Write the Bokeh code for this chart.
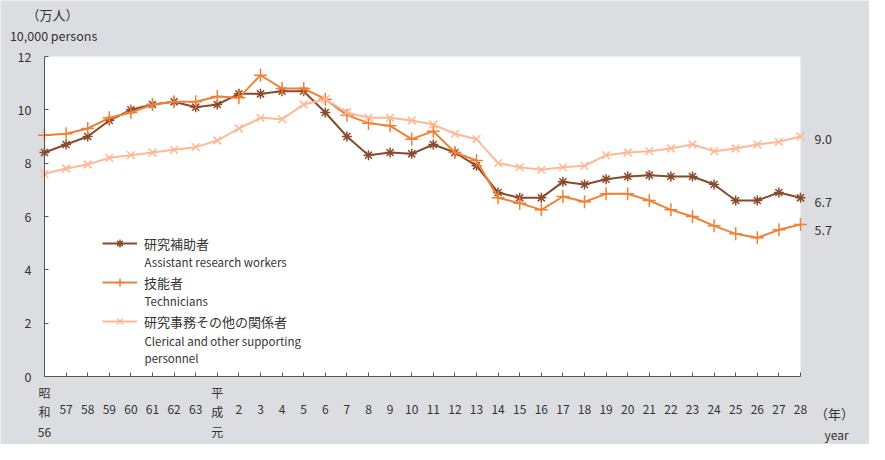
from bokeh.plotting import figure
from bokeh.models import Range1d, FixedTicker, Legend, LegendItem, Label, LinearAxis, BoxAnnotation
from bokeh.embed import file_html
from bokeh.resources import INLINE

# --- data -------------------------------------------------------------
year_labels = ["昭\n和\n56", "57", "58", "59", "60", "61", "62", "63", "平\n成\n元"] + [str(i) for i in range(2, 29)]

assistant = [8.4, 8.7, 9.0, 9.6, 10.0, 10.2, 10.3, 10.1, 10.2,
             10.6, 10.6, 10.7, 10.7, 9.9, 9.0, 8.3, 8.4, 8.35,
             8.7, 8.4, 7.9, 6.9, 6.7, 6.7, 7.3, 7.2, 7.4,
             7.5, 7.55, 7.5, 7.5, 7.2, 6.6, 6.6, 6.9, 6.7]
technicians = [9.05, 9.1, 9.3, 9.7, 9.9, 10.2, 10.3, 10.3, 10.5,
               10.45, 11.3, 10.8, 10.8, 10.4, 9.8, 9.5, 9.4, 8.9,
               9.2, 8.4, 8.1, 6.7, 6.5, 6.25, 6.75, 6.55, 6.85,
               6.85, 6.6, 6.25, 6.0, 5.65, 5.35, 5.2, 5.5, 5.7]
clerical = [7.6, 7.8, 7.95, 8.2, 8.3, 8.4, 8.5, 8.6, 8.85,
            9.3, 9.7, 9.65, 10.2, 10.4, 9.9, 9.7, 9.7, 9.6,
            9.45, 9.1, 8.9, 8.0, 7.85, 7.75, 7.85, 7.9, 8.3,
            8.4, 8.45, 8.55, 8.7, 8.45, 8.55, 8.7, 8.8, 9.0]

series_ja = ["研究補助者", "技能者", "研究事務その他の関係者"]
series_en = [["Assistant research workers"], ["Technicians"], ["Clerical and other supporting", "personnel"]]
y_ticks = [0, 2, 4, 6, 8, 10, 12]
y_max = 12

# --- style ------------------------------------------------------------
FONT = "Noto Sans CJK JP"
TEXT = "#333333"
BG = "#dcdde0"
AXIS = "#555555"
colors = ["#8a4a2c", "#f08035", "#fdb896"]
markers = ["asterisk", "cross", "x"]
msizes = [10, 13, 11]

x = list(range(len(year_labels)))
n_last = x[-1]

W, H = 869, 444
left_px, right_px, top_px, bottom_px = 44, 69, 56, 68
xs = (W - left_px - right_px) / n_last
ys = (H - top_px - bottom_px) / y_max

p = figure(width=W, height=H,
           x_range=Range1d(-left_px / xs, n_last + right_px / xs),
           y_range=Range1d(-bottom_px / ys, y_max + top_px / ys),
           output_backend="svg", toolbar_location=None, min_border=0)
p.min_border_left = p.min_border_right = p.min_border_top = p.min_border_bottom = 0
p.background_fill_color = BG
p.border_fill_color = BG
p.outline_line_color = None
p.xgrid.visible = False
p.ygrid.visible = False

# white plotting area
p.add_layout(BoxAnnotation(left=0, right=n_last, bottom=0, top=y_max, fill_color="white",
                           fill_alpha=1, line_color=None, level="underlay"))

xa = p.xaxis[0]
ya = p.yaxis[0]
for ax in (xa, ya):
    ax.axis_line_color = AXIS
    ax.major_tick_line_color = AXIS
    ax.major_tick_in = 4
    ax.major_tick_out = 0
    ax.minor_tick_line_color = None
    ax.major_label_text_font = FONT
    ax.major_label_text_color = TEXT
    ax.fixed_location = 0

xa.bounds = (0, n_last)
xa.ticker = FixedTicker(ticks=x)
xa.major_label_overrides = {i: ("" if "\n" in lab else lab) for i, lab in zip(x, year_labels)}
xa.major_label_text_font_size = "12px"
xa.major_label_standoff = 28

multi = [i for i, lab in zip(x, year_labels) if "\n" in lab]
xa2 = LinearAxis(ticker=FixedTicker(ticks=multi),
                 major_label_overrides={i: year_labels[i] for i in multi},
                 axis_line_color=None, major_tick_line_color=None, minor_tick_line_color=None,
                 major_label_text_font=FONT, major_label_text_font_size="12px",
                 major_label_text_color=TEXT, major_label_text_line_height=1.15,
                 major_label_standoff=1, fixed_location=0, bounds=(0, n_last))
p.add_layout(xa2, "below")

ya.bounds = (0, y_max)
ya.ticker = FixedTicker(ticks=y_ticks)
ya.major_label_standoff = 13
ya.major_label_text_font_size = "12.5px"

# --- series -----------------------------------------------------------
series = [assistant, technicians, clerical]
items = []
for vals, c, m, s, ja in zip(series, colors, markers, msizes, series_ja):
    ln = p.line(x, vals, line_color=c, line_width=2)
    sc = p.scatter(x, vals, marker=m, size=s, line_color=c, line_width=1.5)
    items.append(LegendItem(label=ja, renderers=[ln, sc]))

legend = Legend(items=items, location=(102, 113), spacing=19, glyph_width=35, glyph_height=20,
                label_height=20, label_standoff=7, padding=0, margin=0,
                border_line_color=None, background_fill_alpha=0,
                label_text_font=FONT, label_text_font_size="13px", label_text_color=TEXT)
p.add_layout(legend)

# English legend sub-lines
en_y = [[4.31], [2.85], [1.35, 0.68]]
for lines, yy_list in zip(series_en, en_y):
    for t, yy in zip(lines, yy_list):
        p.add_layout(Label(x=4.63, y=yy, text=t, text_font=FONT, text_font_size="11.5px",
                           text_color=TEXT, text_baseline="middle", text_align="left"))

# end values
end_offsets = [-4, -5, -2]
for vals, off in zip(series, end_offsets):
    p.add_layout(Label(x=n_last, y=vals[-1], text=f"{vals[-1]:.1f}", x_offset=14, y_offset=off,
                       text_font=FONT, text_font_size="12.5px", text_color=TEXT,
                       text_baseline="middle", text_align="left"))

# axis titles
p.add_layout(Label(x=0.37, y=13.57, text="（万人）", text_font=FONT, text_font_size="13px",
                   text_color=TEXT, text_baseline="middle", text_align="center"))
p.add_layout(Label(x=0.42, y=12.79, text="10,000 persons", text_font=FONT, text_font_size="12.5px",
                   text_color=TEXT, text_baseline="middle", text_align="center"))
p.add_layout(Label(x=36.57, y=-1.38, text="（年）", text_font=FONT, text_font_size="13px",
                   text_color=TEXT, text_baseline="middle", text_align="center"))
p.add_layout(Label(x=36.67, y=-2.16, text="year", text_font=FONT, text_font_size="12px",
                   text_color=TEXT, text_baseline="middle", text_align="center"))

open("out.html", "w").write(file_html(p, INLINE))
